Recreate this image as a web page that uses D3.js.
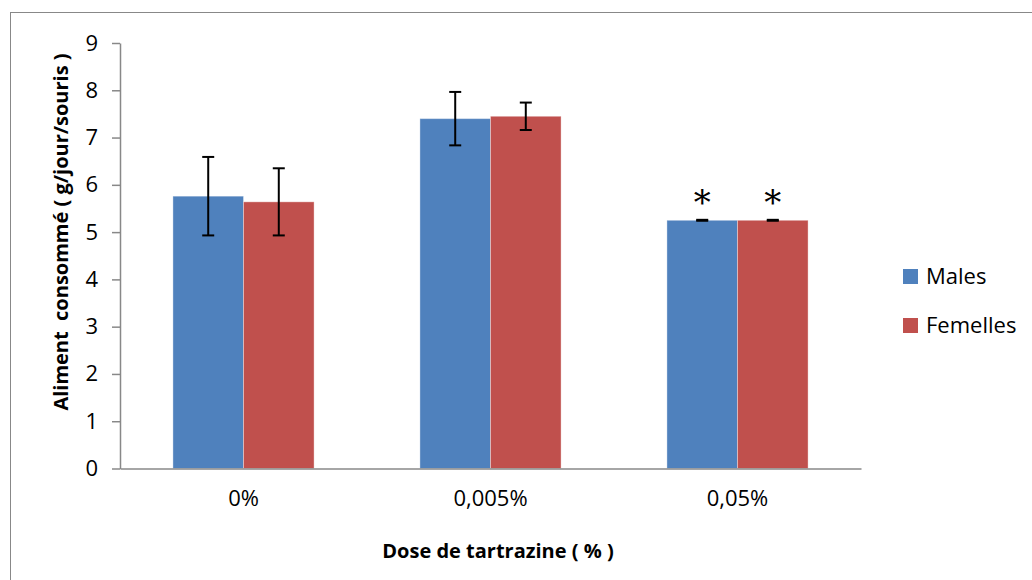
<!DOCTYPE html>
<html lang="fr">
<head>
    <meta charset="utf-8" />
    <style>
        body {margin:0; background:#fff;}
        text {font-family: "Open Sans", "Noto Sans", sans-serif; fill: #000;}
    </style>
    <script src="https://d3js.org/d3.v7.min.js"></script>
</head>
<body>
    <svg></svg>
</body>
<script>
    var width = 1032,
        height = 580;

    var categories = ["0%", "0,005%", "0,05%"];
    var seriesNames = ["Males", "Femelles"];
    var males = [5.76, 7.40, 5.25];
    var femelles = [5.64, 7.45, 5.25];
    var malesErr = [0.83, 0.565, 0.01];
    var femellesErr = [0.71, 0.29, 0.01];
    var stars = ["", "", "*"];
    var yTicks = [0, 1, 2, 3, 4, 5, 6, 7, 8, 9];
    var colors = ["#4F81BD", "#C0504D"];

    var margin = {left: 120, right: 171, top: 43, bottom: 111.5};

    var svg = d3.select("svg")
        .attr("width", width)
        .attr("height", height);

    // outer frame of the chart area
    svg.append("rect")
        .attr("x", 10.5).attr("y", 12.5)
        .attr("width", 1040).attr("height", 620)
        .attr("fill", "none").attr("stroke", "#888").attr("stroke-width", 1);

    var x0 = d3.scaleBand()
        .domain(categories)
        .range([margin.left, width - margin.right])
        .paddingInner(1.5 / 3.5)
        .paddingOuter(0.75 / 3.5);

    var x1 = d3.scaleBand()
        .domain(seriesNames)
        .range([0, x0.bandwidth()]);

    var y = d3.scaleLinear()
        .domain([0, 9])
        .range([height - margin.bottom, margin.top]);

    var rows = categories.map(function(c, i) {
        return {cat: c, star: stars[i], vals: [
            {name: "Males", v: males[i], e: malesErr[i], color: colors[0]},
            {name: "Femelles", v: femelles[i], e: femellesErr[i], color: colors[1]}
        ]};
    });

    var groups = svg.append("g").selectAll("g")
        .data(rows)
      .enter().append("g")
        .attr("transform", function(d) {return "translate(" + x0(d.cat) + ",0)"});

    groups.selectAll("rect")
        .data(function(d) {return d.vals})
      .enter().append("rect")
        .attr("x", function(d) {return x1(d.name)})
        .attr("y", function(d) {return y(d.v)})
        .attr("width", x1.bandwidth())
        .attr("height", function(d) {return y(0) - y(d.v)})
        .attr("fill", function(d) {return d.color})
        .attr("stroke", "rgba(255,255,255,0.35)")
        .attr("stroke-width", 1);

    // error bars
    var err = groups.selectAll("g.err")
        .data(function(d) {return d.vals})
      .enter().append("g")
        .attr("class", "err")
        .attr("stroke", "#000").attr("stroke-width", 2);

    err.append("line")
        .attr("x1", function(d) {return x1(d.name) + x1.bandwidth() / 2})
        .attr("x2", function(d) {return x1(d.name) + x1.bandwidth() / 2})
        .attr("y1", function(d) {return y(d.v + d.e)})
        .attr("y2", function(d) {return y(d.v - d.e)});

    err.selectAll("line.cap")
        .data(function(d) {return [d.v + d.e, d.v - d.e].map(function(v) {return {name: d.name, v: v}})})
      .enter().append("line")
        .attr("class", "cap")
        .attr("x1", function(d) {return x1(d.name) + x1.bandwidth() / 2 - 6})
        .attr("x2", function(d) {return x1(d.name) + x1.bandwidth() / 2 + 6})
        .attr("y1", function(d) {return y(d.v)})
        .attr("y2", function(d) {return y(d.v)});

    // significance stars
    groups.selectAll("text.star")
        .data(function(d) {return d.star ? d.vals.map(function(v) {return {name: v.name, v: v.v + v.e, s: d.star}}) : []})
      .enter().append("text")
        .attr("class", "star")
        .attr("text-anchor", "middle")
        .attr("x", function(d) {return x1(d.name) + x1.bandwidth() / 2})
        .attr("y", function(d) {return y(d.v) - 6})
        .style("font-family", "'DejaVu Serif', serif")
        .style("font-size", "34px")
        .text(function(d) {return d.s});

    // axes
    var yAxis = svg.append("g")
        .attr("transform", "translate(" + margin.left + ",0)")
        .call(d3.axisLeft(y).tickValues(yTicks).tickSize(8).tickPadding(14).tickSizeOuter(0));

    var xAxis = svg.append("g")
        .attr("transform", "translate(0," + y(0) + ")")
        .call(d3.axisBottom(x0).tickSize(0).tickPadding(22).tickSizeOuter(0));

    [yAxis, xAxis].forEach(function(a) {
        a.select(".domain").attr("stroke", "#888").attr("stroke-width", 1.5);
        a.selectAll(".tick line").attr("stroke", "#888").attr("stroke-width", 1.5);
        a.selectAll(".tick text").style("font-size", "22px").attr("fill", "#000");
    });

    // axis titles
    svg.append("text")
        .attr("text-anchor", "middle")
        .attr("x", 498)
        .attr("y", 558)
        .style("font-size", "20px").style("font-weight", "bold")
        .text("Dose de tartrazine ( % )");

    svg.append("text")
        .attr("text-anchor", "middle")
        .attr("transform", "translate(68,232) rotate(-90)")
        .style("font-size", "20px").style("font-weight", "bold")
        .style("white-space", "pre")
        .text("Aliment  consommé ( g/jour/souris )");

    // legend
    var legend = svg.append("g").selectAll("g")
        .data(seriesNames)
      .enter().append("g")
        .attr("transform", function(d, i) {return "translate(903," + (269 + i * 49) + ")"});

    legend.append("rect")
        .attr("width", 15).attr("height", 15)
        .attr("fill", function(d, i) {return colors[i]});

    legend.append("text")
        .attr("x", 23).attr("y", 15)
        .style("font-size", "22px")
        .text(function(d) {return d});
</script>
</html>
